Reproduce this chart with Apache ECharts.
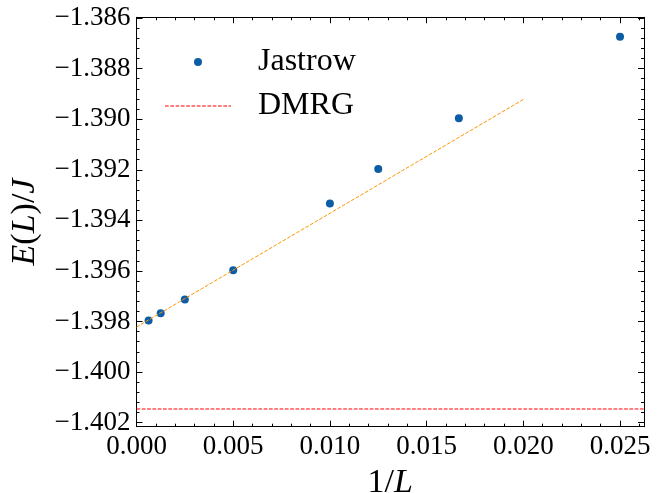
<!DOCTYPE html>
<html>
<head>
<meta charset="utf-8">
<script src="https://cdn.jsdelivr.net/npm/echarts@6/dist/echarts.min.js"></script>
<style>html,body{margin:0;padding:0;background:#fff}#c{width:660px;height:493px}</style>
</head>
<body>
<div id="c"></div>
<script>
// ---- data ----
var invL = [0.000625, 0.00125, 0.0025, 0.005, 0.01, 0.0125, 0.016667, 0.025];
var energy = [-1.39796, -1.39767, -1.39713, -1.39597, -1.39333, -1.39197, -1.38996, -1.38674];
var fitX = [0, 0.02];
var fitY = [-1.39822, -1.38922];
var dmrgEnergy = -1.40146;
var xTicks = [0, 0.005, 0.010, 0.015, 0.020, 0.025];
var yTicks = [-1.402, -1.400, -1.398, -1.396, -1.394, -1.392, -1.390, -1.388, -1.386];
var xLim = [0, 0.02624];
var yLim = [-1.40216, -1.38597];

function minorTicks(major, nSub, lim) {
  var step = (major[1] - major[0]) / nSub, out = [];
  var start = major[0] - 2 * (major[1] - major[0]);
  for (var k = 0; ; k++) {
    var v = start + k * step;
    if (v > lim[1] + 1e-12) break;
    if (v >= lim[0] - 1e-12) out.push(+v.toFixed(8));
  }
  return out;
}
var xMinor = minorTicks(xTicks, 5, xLim);
var yMinor = minorTicks(yTicks, 5, yLim);

// dashed legend icon path (dash 3.7, gap 1.6)
var dashPath = 'path://';
for (var d = 0; d < 13; d++) {
  var x0 = d * 5.3, w = Math.min(3.7, 66 - x0);
  dashPath += 'M' + x0.toFixed(2) + ',0h' + w.toFixed(2) + 'v1h-' + w.toFixed(2) + 'z';
}

var FONT = '"Liberation Serif", "DejaVu Serif", serif';
var fmt = function (v) { return (v < 0 ? '\u2212' : '') + Math.abs(v).toFixed(3); };

function axisSet(kind, pos, ticks, isMinor, withLabels, lim) {
  var a = {
    type: 'value', position: pos, min: lim[0], max: lim[1],
    gridIndex: 0,
    axisLine: { show: !isMinor, onZero: false, lineStyle: { color: '#000', width: 1 } },
    axisTick: { show: true, inside: true, customValues: ticks, length: isMinor ? 3 : 6, lineStyle: { color: '#000', width: 1 } },
    axisLabel: { show: false },
    splitLine: { show: false },
    minorTick: { show: false }
  };
  if (withLabels) {
    a.axisLabel = {
      show: true, customValues: ticks, formatter: fmt, color: '#000',
      fontFamily: FONT, fontSize: 27, margin: kind === 'x' ? 7 : 6,
      showMinLabel: true, showMaxLabel: true
    };
  }
  return a;
}

var xAxes = [
  axisSet('x', 'bottom', xTicks, false, true, xLim),
  axisSet('x', 'bottom', xMinor, true, false, xLim),
  axisSet('x', 'top', xTicks, false, false, xLim),
  axisSet('x', 'top', xMinor, true, false, xLim)
];
var yAxes = [
  axisSet('y', 'left', yTicks, false, true, yLim),
  axisSet('y', 'left', yMinor, true, false, yLim),
  axisSet('y', 'right', yTicks, false, false, yLim),
  axisSet('y', 'right', yMinor, true, false, yLim)
];
var titleStyle = { fontFamily: FONT, fontSize: 34, color: '#000', rich: { i: { fontFamily: FONT, fontSize: 34, fontStyle: 'italic', color: '#000' } } };
xAxes[0].name = '1/{i|L}';
xAxes[0].nameLocation = 'middle';
xAxes[0].nameGap = 34;
xAxes[0].nameTextStyle = titleStyle;
yAxes[0].name = '{i|E}({i|L})/{i|J}';
yAxes[0].nameLocation = 'middle';
yAxes[0].nameGap = 94;
yAxes[0].nameTextStyle = titleStyle;

var chart = echarts.init(document.getElementById('c'), null, { renderer: 'canvas' });
chart.setOption({
  animation: false,
  backgroundColor: '#fff',
  grid: { left: 136.5, right: 16, top: 17.3, bottom: 66.3, containLabel: false, outerBoundsMode: 'none' },
  xAxis: xAxes,
  yAxis: yAxes,
  legend: [
    {
      data: ['Jastrow'], left: 194, top: 46, padding: 0,
      itemWidth: 8, itemHeight: 8,
      textStyle: { fontFamily: FONT, fontSize: 32, color: '#000', padding: [0, 0, 0, 51] }
    },
    {
      data: [{ name: 'DMRG', icon: dashPath }], left: 165, top: 90, padding: 0,
      itemWidth: 66, itemHeight: 10,
      textStyle: { fontFamily: FONT, fontSize: 32, color: '#000', padding: [0, 0, 0, 22] }
    }
  ],
  series: [
    {
      name: 'Jastrow', type: 'scatter', symbol: 'circle', symbolSize: 8,
      itemStyle: { color: '#0C5DA5', opacity: 1 },
      data: invL.map(function (x, i) { return [x, energy[i]]; }),
      z: 5
    },
    {
      name: 'Fit', type: 'line', showSymbol: false, symbol: 'none',
      lineStyle: { color: '#FF9500', width: 1, type: [3.7, 1.6] },
      data: fitX.map(function (x, i) { return [x, fitY[i]]; }),
      z: 6
    },
    {
      name: 'DMRG', type: 'line', symbol: 'none', showSymbol: false,
      itemStyle: { color: '#FF0000' },
      lineStyle: { color: '#FF0000', width: 1, type: [3.7, 1.6] },
      data: xLim.map(function (x) { return [x, dmrgEnergy]; }),
      z: 2
    }
  ]
});
</script>
</body>
</html>
